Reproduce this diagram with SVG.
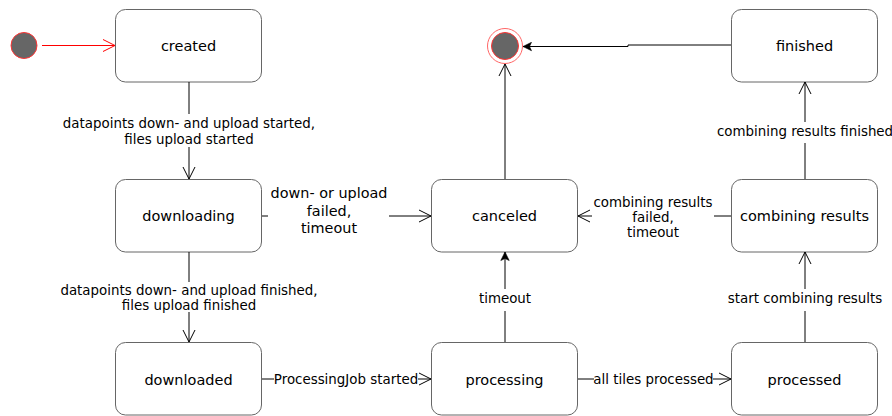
<svg xmlns="http://www.w3.org/2000/svg" width="892" height="416" viewBox="0 0 892 416">
  <style>
    .state rect { fill: #ffffff; stroke: #666666; stroke-width: 1; }
    .state text { font-family: "DejaVu Sans", sans-serif; font-size: 14.5px; fill: #000000; text-anchor: middle; }
    .edge { fill: none; stroke: #000000; stroke-width: 1; }
    .lbl { font-family: "DejaVu Sans", sans-serif; font-size: 13.4px; fill: #000000; text-anchor: middle; }
    .lbl-big { font-size: 14.4px; }
  </style>
  <defs>
    <marker id="open" viewBox="0 0 14 14" refX="13" refY="7" markerWidth="14" markerHeight="14" markerUnits="userSpaceOnUse" orient="auto">
      <path d="M1,1 L13,7 L1,13" fill="none" stroke="#000000" stroke-width="1"/>
    </marker>
    <marker id="open-red" viewBox="0 0 14 14" refX="13" refY="7" markerWidth="14" markerHeight="14" markerUnits="userSpaceOnUse" orient="auto">
      <path d="M1,1 L13,7 L1,13" fill="none" stroke="#ff0000" stroke-width="1"/>
    </marker>
    <marker id="block" viewBox="0 0 10 10" refX="9.5" refY="5" markerWidth="10" markerHeight="10" markerUnits="userSpaceOnUse" orient="auto">
      <path d="M9.5,5 L1,0.8 L3,5 L1,9.2 Z" fill="#000000" stroke="#000000" stroke-width="0.6"/>
    </marker>
  </defs>

  <!-- pseudo states -->
  <g id="start">
    <circle cx="24" cy="45.5" r="13" fill="#666666" stroke="#ff3333" stroke-width="1"/>
  </g>
  <g id="end">
    <circle cx="505" cy="46" r="17.5" fill="#ffffff" stroke="#ff6666" stroke-width="1"/>
    <circle cx="505" cy="46" r="13.5" fill="#666666" stroke="#ff3333" stroke-width="1"/>
  </g>

  <!-- states -->
  <g id="created" class="state">
    <rect x="115.5" y="9.5" width="146" height="72.5" rx="10"/>
    <text x="188.5" y="51">created</text>
  </g>
  <g id="downloading" class="state">
    <rect x="115.5" y="179.5" width="146" height="72.5" rx="10"/>
    <text x="188.5" y="221">downloading</text>
  </g>
  <g id="downloaded" class="state">
    <rect x="115.5" y="342.5" width="146" height="72.5" rx="10"/>
    <text x="188.5" y="385">downloaded</text>
  </g>
  <g id="canceled" class="state">
    <rect x="431.5" y="179.5" width="146" height="72.5" rx="10"/>
    <text x="504.5" y="221">canceled</text>
  </g>
  <g id="processing" class="state">
    <rect x="431.5" y="342.5" width="146" height="72.5" rx="10"/>
    <text x="504.5" y="385">processing</text>
  </g>
  <g id="processed" class="state">
    <rect x="731.5" y="342.5" width="146" height="72.5" rx="10"/>
    <text x="804.5" y="385">processed</text>
  </g>
  <g id="combining" class="state">
    <rect x="731.5" y="179.5" width="146" height="72.5" rx="10"/>
    <text x="804.5" y="221">combining results</text>
  </g>
  <g id="finished" class="state">
    <rect x="731.5" y="9.5" width="146" height="72.5" rx="10"/>
    <text x="804.5" y="51">finished</text>
  </g>

  <!-- transitions -->
  <g id="connectors">
    <line x1="42" y1="45.5" x2="115" y2="45.5" stroke="#ff0000" stroke-width="1" marker-end="url(#open-red)"/>

    <line class="edge" x1="189" y1="82" x2="189" y2="114"/>
    <line class="edge" x1="189" y1="147" x2="189" y2="179" marker-end="url(#open)"/>
    <text class="lbl" x="189" y="128">datapoints down- and upload started,</text>
    <text class="lbl" x="189" y="144">files upload started</text>

    <line class="edge" x1="189" y1="252" x2="189" y2="282"/>
    <line class="edge" x1="189" y1="312" x2="189" y2="342" marker-end="url(#open)"/>
    <text class="lbl" x="189" y="295">datapoints down- and upload finished,</text>
    <text class="lbl" x="189" y="310">files upload finished</text>

    <line class="edge" x1="262" y1="216" x2="268" y2="216"/>
    <line class="edge" x1="389" y1="216" x2="431" y2="216" marker-end="url(#open)"/>
    <text class="lbl lbl-big" x="329" y="198">down- or upload</text>
    <text class="lbl lbl-big" x="329" y="216">failed,</text>
    <text class="lbl lbl-big" x="329" y="233">timeout</text>

    <line class="edge" x1="262" y1="379" x2="274" y2="379"/>
    <line class="edge" x1="418" y1="379" x2="431" y2="379" marker-end="url(#open)"/>
    <text class="lbl" x="346" y="384">ProcessingJob started</text>

    <line class="edge" x1="578" y1="379" x2="594" y2="379"/>
    <line class="edge" x1="713" y1="379" x2="731" y2="379" marker-end="url(#open)"/>
    <text class="lbl" x="653.5" y="384">all tiles processed</text>

    <line class="edge" x1="505" y1="342" x2="505" y2="311"/>
    <line class="edge" x1="505" y1="289" x2="505" y2="252" marker-end="url(#block)"/>
    <text class="lbl" x="505" y="303">timeout</text>

    <line class="edge" x1="805" y1="342" x2="805" y2="311"/>
    <line class="edge" x1="805" y1="289" x2="805" y2="252" marker-end="url(#open)"/>
    <text class="lbl" x="805" y="303">start combining results</text>

    <line class="edge" x1="805" y1="179" x2="805" y2="143"/>
    <line class="edge" x1="805" y1="122" x2="805" y2="82" marker-end="url(#open)"/>
    <text class="lbl" x="805" y="136">combining results finished</text>

    <line class="edge" x1="731" y1="216" x2="714" y2="216"/>
    <line class="edge" x1="592" y1="216" x2="578" y2="216" marker-end="url(#open)"/>
    <text class="lbl" x="653" y="207">combining results</text>
    <text class="lbl" x="653" y="222">failed,</text>
    <text class="lbl" x="653" y="237">timeout</text>

    <line class="edge" x1="505" y1="179" x2="505" y2="64" marker-end="url(#open)"/>

    <polyline class="edge" points="731,45 628,45 628,46.5 523,46.5" marker-end="url(#block)"/>
  </g>
</svg>
